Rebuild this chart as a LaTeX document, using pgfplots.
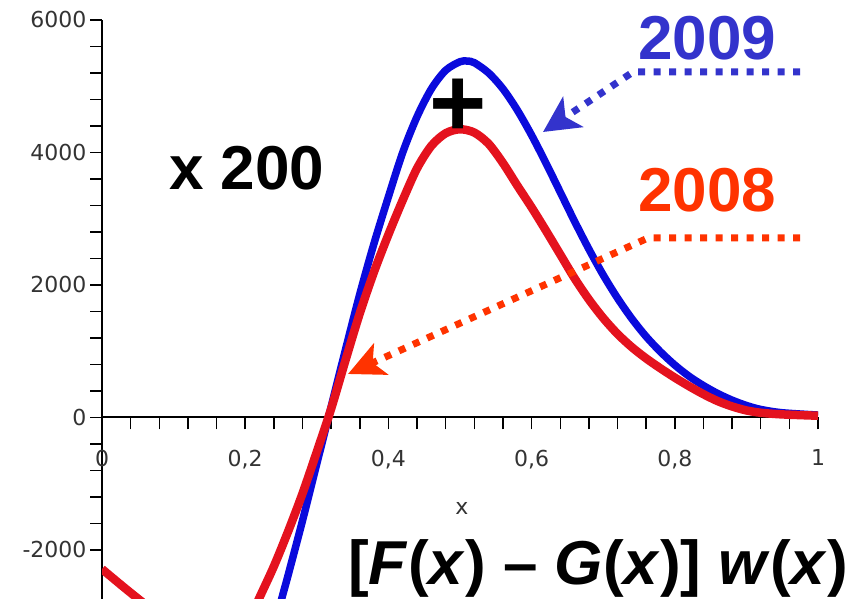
\documentclass[border=0pt]{standalone}
\usepackage{fontspec}
\setmainfont{Liberation Sans}
\newfontfamily\tickfont{DejaVu Sans}
\usepackage{pgfplots}
\pgfplotsset{compat=1.18}
\usetikzlibrary{arrows.meta}

\definecolor{curvered}{RGB}{228,18,30}
\definecolor{curveblue}{RGB}{10,10,220}
\definecolor{labred}{RGB}{255,51,0}
\definecolor{labblue}{RGB}{51,51,204}

\begin{document}
\begin{tikzpicture}[x=1bp,y=1bp]
\useasboundingbox (0,0) rectangle (859,599);
\begin{axis}[
  at={(102bp,0bp)}, anchor=south west,
  scale only axis, width=716bp, height=579bp,
  xmin=0, xmax=1, ymin=-2742, ymax=6000,
  axis lines=middle,
  axis line style={-, line width=1.8bp},
  xtick={0,0.2,0.4,0.6,0.8,1},
  xticklabels={0,{0,2},{0,4},{0,6},{0,8},1},
  ytick={-2000,0,2000,4000,6000},
  yticklabels={-2000,0,2000,4000,6000},
  minor x tick num=4, minor y tick num=4,
  tick align=outside,
  major tick length=12bp, minor tick length=12bp,
  every tick/.append style={black, line width=1.5bp},
  hide obscured x ticks=false, hide obscured y ticks=false,
  tick label style={font=\tickfont\fontsize{22bp}{22bp}\selectfont, text=black!80},
  xticklabel style={anchor=north, yshift=-17bp},
  yticklabel style={anchor=east},
]
% 2009
\addplot[curveblue, line width=7.5bp, smooth, tension=0.5] coordinates {
  (0.00,-3300) (0.05,-3800) (0.10,-4250) (0.15,-4500) (0.19,-4350)
  (0.22,-3900) (0.24,-3250) (0.25,-2780) (0.26,-2380) (0.28,-1560)
  (0.30,-700) (0.32,160) (0.34,1020) (0.36,1860) (0.38,2630)
  (0.40,3330) (0.42,4000) (0.44,4540) (0.46,4960) (0.48,5240)
  (0.50,5370) (0.51,5380) (0.52,5355) (0.54,5200) (0.56,4960)
  (0.58,4640) (0.60,4260) (0.62,3840) (0.64,3400) (0.66,2960)
  (0.68,2540) (0.70,2150) (0.72,1800) (0.74,1490) (0.76,1220)
  (0.78,990) (0.80,790) (0.82,620) (0.84,480) (0.86,360)
  (0.88,260) (0.90,180) (0.92,120) (0.95,70) (1.00,35)
};
% 2008
\addplot[curvered, line width=8.5bp, smooth, tension=0.5] coordinates {
  (0.00,-2290) (0.03,-2560) (0.06,-2820) (0.09,-3060) (0.12,-3250)
  (0.15,-3420) (0.17,-3440) (0.19,-3320) (0.205,-3080) (0.22,-2720)
  (0.24,-2250) (0.26,-1720) (0.28,-1150) (0.30,-520) (0.32,130)
  (0.34,860) (0.36,1570) (0.38,2200) (0.40,2760) (0.42,3280)
  (0.44,3760) (0.46,4100) (0.48,4290) (0.50,4350) (0.52,4300)
  (0.54,4130) (0.56,3840) (0.58,3500) (0.60,3170) (0.62,2820)
  (0.64,2460) (0.66,2100) (0.68,1780) (0.70,1500) (0.72,1260)
  (0.74,1060) (0.76,890) (0.78,740) (0.80,600) (0.82,470)
  (0.84,350) (0.86,245) (0.88,165) (0.90,105) (0.92,70)
  (0.95,45) (1.00,25)
};
\end{axis}

\node[anchor=base west, inner sep=0, font=\bfseries\fontsize{62bp}{62bp}\selectfont] at (169,409) {x 200};
\node[anchor=base west, inner sep=0, text=labblue, font=\bfseries\fontsize{62bp}{62bp}\selectfont] at (638,539) {2009};
\node[anchor=base west, inner sep=0, text=labred, font=\bfseries\fontsize{62bp}{62bp}\selectfont] at (638,387) {2008};
\node[anchor=base, inner sep=0, font=\bfseries\fontsize{98bp}{98bp}\selectfont] at (458,462) {+};
\node[anchor=base west, inner sep=0, font=\bfseries\fontsize{62bp}{62bp}\selectfont] at (348,14)
  {[\textit{F}(\textit{x}) – \textit{G}(\textit{x})] \textit{w}(\textit{x})};
\node[font=\tickfont\fontsize{22bp}{22bp}\selectfont, text=black!80] at (462,91) {x};

\draw[labblue, line width=7bp, dash pattern=on 7bp off 8.5bp,
  -{Stealth[length=36bp, width=36bp, inset=9bp]}] (800,527) -- (633,527) -- (543,467);
\draw[labred, line width=7bp, dash pattern=on 7bp off 8.5bp,
  -{Stealth[length=36bp, width=34bp, inset=9bp]}] (800,361) -- (648,361) -- (348,225);
\end{tikzpicture}
\end{document}
